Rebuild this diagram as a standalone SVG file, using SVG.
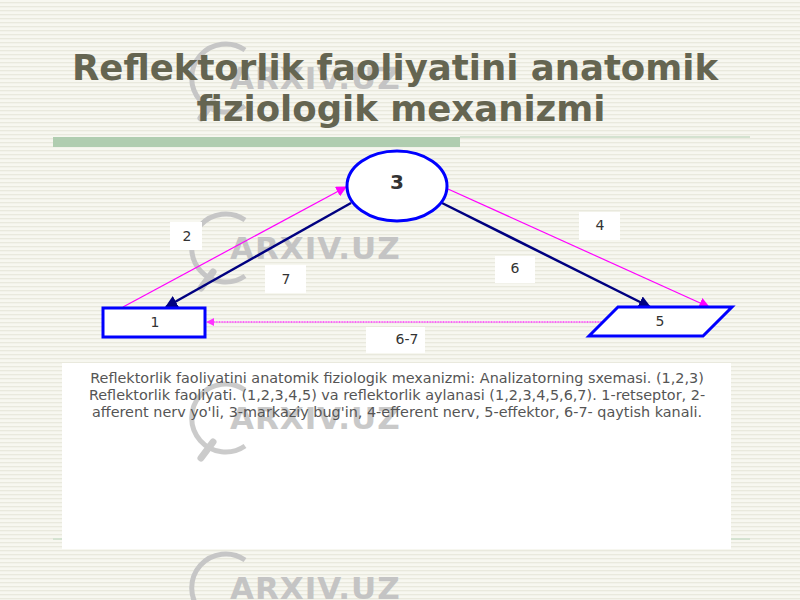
<svg xmlns="http://www.w3.org/2000/svg" width="800" height="600" viewBox="0 0 800 600">
<defs>
<pattern id="stripes" width="4" height="4" patternUnits="userSpaceOnUse">
<rect width="4" height="4" fill="#f7f7f0"/>
<rect y="2" width="4" height="1.3" fill="#e9e9dd"/>
</pattern>
<marker id="arrNavy" viewBox="0 0 10 10" refX="9" refY="5" markerWidth="5" markerHeight="5" orient="auto" markerUnits="strokeWidth">
<path d="M0,0 L10,5 L0,10 z" fill="#000080"/>
</marker>
<marker id="arrMag" viewBox="0 0 10 10" refX="9" refY="5" markerWidth="9" markerHeight="9" orient="auto" markerUnits="strokeWidth">
<path d="M0,0 L10,5 L0,10 z" fill="#ff00ff"/>
</marker>
<marker id="arrMag2" viewBox="0 0 10 10" refX="9" refY="5" markerWidth="5" markerHeight="5" orient="auto" markerUnits="strokeWidth">
<path d="M0,0 L10,5 L0,10 z" fill="#ff33ff"/>
</marker>
<g id="wm">
<path d="M40,-28 A34,34 0 1 0 40,28" fill="none" stroke="#c6c6c6" stroke-width="5"/>
<path d="M8,24 L-4,40" stroke="#c6c6c6" stroke-width="7" stroke-linecap="round" fill="none"/>
<text x="25" y="11" class="wm">ARXIV.UZ</text>
</g>
</defs>
<style>
.title{font-family:"DejaVu Sans",sans-serif;font-weight:bold;font-size:35.5px;fill:#656551;text-anchor:middle}
.wm{font-family:"DejaVu Sans",sans-serif;font-weight:bold;font-size:31px;fill:#c4c4c4;letter-spacing:1px}
.node{fill:#ffffff;stroke:#0000ff;stroke-width:3}
.lbl{font-family:"DejaVu Sans",sans-serif;font-size:14px;fill:#333333;text-anchor:middle}
.lblbox{fill:#ffffff;stroke:none}
.navy{stroke:#000080;stroke-width:2.5;fill:none;marker-end:url(#arrNavy)}
.mag{stroke:#ff00ff;stroke-width:1.2;fill:none;marker-end:url(#arrMag)}
.desc{font-family:"DejaVu Sans",sans-serif;font-size:14.4px;fill:#555555;text-anchor:middle}
</style>
<rect width="800" height="600" fill="url(#stripes)"/>
<use href="#wm" x="205" y="78"/>
<use href="#wm" x="205" y="248"/>
<use href="#wm" x="205" y="588"/>
<text class="title" x="395" y="80">Reflektorlik faoliyatini anatomik</text>
<text class="title" x="401" y="121">fiziologik mexanizmi</text>
<rect x="53" y="137" width="407" height="10" fill="#b0cdb0"/>
<rect x="460" y="136" width="290" height="2" fill="#d4e2d0"/>
<rect x="53" y="538" width="697" height="2" fill="#d4e2d0"/>
<g id="connectors">
<line class="mag" x1="123" y1="307" x2="346" y2="187"/>
<line class="navy" x1="351" y1="203" x2="166" y2="307"/>
<line class="mag" x1="448" y1="189" x2="709" y2="307"/>
<line class="navy" x1="442" y1="203" x2="650" y2="307"/>
<line x1="604" y1="322" x2="207" y2="322" stroke="#ff33ff" stroke-width="1.6" stroke-dasharray="1 0.6" marker-end="url(#arrMag2)"/>
</g>
<g id="node-3">
<ellipse class="node" cx="397" cy="186" rx="50" ry="35"/>
<text class="lbl" x="397" y="189" style="font-size:20px;font-weight:bold">3</text>
</g>
<g id="node-1">
<rect class="node" x="103" y="308" width="102" height="29" stroke-width="2.5"/>
<text class="lbl" x="155" y="327">1</text>
</g>
<g id="node-5">
<polygon class="node" points="618,307 732,307 703,336 589,336" stroke-width="2.5"/>
<text class="lbl" x="660" y="326">5</text>
</g>
<g id="label-2"><rect class="lblbox" x="170" y="222" width="32" height="28"/><text class="lbl" x="187" y="241">2</text></g>
<g id="label-7"><rect class="lblbox" x="265" y="265" width="41" height="28"/><text class="lbl" x="286" y="284">7</text></g>
<g id="label-4"><rect class="lblbox" x="579" y="212" width="41" height="28"/><text class="lbl" x="600" y="230">4</text></g>
<g id="label-6"><rect class="lblbox" x="495" y="256" width="40" height="27"/><text class="lbl" x="515" y="273">6</text></g>
<g id="label-6-7"><rect class="lblbox" x="366" y="327" width="59" height="26"/><text class="lbl" x="407" y="344">6-7</text></g>
<g id="description">
<rect x="62" y="363" width="669" height="186" fill="#ffffff"/>
<use href="#wm" x="205" y="418" opacity="0.9"/>
<text class="desc" x="397" y="383">Reflektorlik faoliyatini anatomik fiziologik mexanizmi: Analizatorning sxemasi. (1,2,3)</text>
<text class="desc" x="397" y="400">Reflektorlik faoliyati. (1,2,3,4,5) va reflektorlik aylanasi (1,2,3,4,5,6,7). 1-retseptor, 2-</text>
<text class="desc" x="397" y="417">afferent nerv yo'li, 3-markaziy bug'in, 4-efferent nerv, 5-effektor, 6-7- qaytish kanali.</text>
</g>
</svg>
